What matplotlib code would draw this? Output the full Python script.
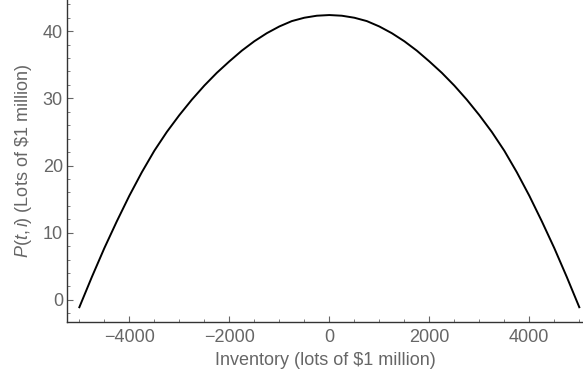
import matplotlib.pyplot as plt
from matplotlib.ticker import MultipleLocator

plt.rcParams['font.family'] = ['Liberation Sans', 'DejaVu Sans']
plt.rcParams['mathtext.fontset'] = 'custom'
plt.rcParams['mathtext.rm'] = 'Liberation Sans'
plt.rcParams['mathtext.it'] = 'Liberation Sans:italic'

# inventory level (lots) and value P(t,i), every 250 lots on the left half
inv_left = [-5000, -4750, -4500, -4250, -4000, -3750, -3500, -3250, -3000, -2750,
            -2500, -2250, -2000, -1750, -1500, -1250, -1000, -750, -500, -250]
val_left = [-1.1, 3.4, 7.7, 11.7, 15.5, 19.0, 22.2, 25.0, 27.5, 29.8,
            31.9, 33.8, 35.5, 37.1, 38.5, 39.7, 40.7, 41.5, 42.0, 42.3]
peak = 42.4

# the curve is symmetric about zero inventory
inventory = inv_left + [0] + [-x for x in inv_left[::-1]]
value = val_left + [peak] + val_left[::-1]

x_ticks = [-4000, -2000, 0, 2000, 4000]
y_ticks = [0, 10, 20, 30, 40]

fig = plt.figure(figsize=(5.83, 3.79), dpi=100)
ax = fig.add_axes([0.115, 0.15, 0.885, 0.85])

ax.plot(inventory, value, color='black', lw=1.4, solid_joinstyle='round')

ax.set_xlim(-5246, 5074)
ax.set_ylim(-3.32, 44.64)
ax.set_xticks(x_ticks)
ax.set_yticks(y_ticks)
ax.set_xticklabels(['\u2212' + str(-t) if t < 0 else str(t) for t in x_ticks])
ax.xaxis.set_minor_locator(MultipleLocator(500))
ax.yaxis.set_minor_locator(MultipleLocator(2))

for s in ['top', 'right']:
    ax.spines[s].set_visible(False)
for s in ['left', 'bottom']:
    ax.spines[s].set_color('#333333')
    ax.spines[s].set_linewidth(1.0)

ax.tick_params(which='both', direction='in', color='#666666', labelcolor='#666666',
               labelsize=13)
ax.tick_params(which='major', length=4, width=0.8)
ax.tick_params(which='minor', length=2.5, width=0.6)
ax.tick_params(axis='x', pad=5)
ax.tick_params(axis='y', pad=3)

ax.set_xlabel('Inventory (lots of $1 million)', fontsize=13, color='#666666', labelpad=4)
ax.set_ylabel(r'$P(t,i)$ (Lots of \$1 million)', fontsize=13, color='#666666', labelpad=6)

fig.savefig('out.png', dpi=100)
